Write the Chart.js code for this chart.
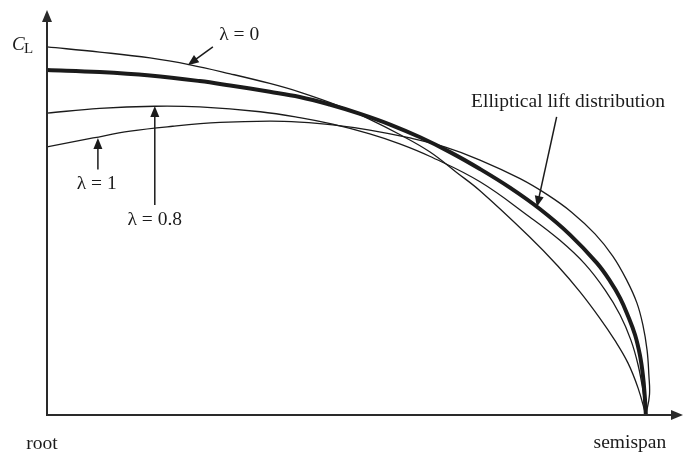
<!DOCTYPE html>
<html>
<head>
<meta charset="utf-8">
<script src="https://cdn.jsdelivr.net/npm/chart.js@4/dist/chart.umd.min.js"></script>
<style>
    html, body { margin: 0; padding: 0; background: #ffffff; }
    #wrap { width: 683px; height: 458px; }
</style>
</head>
<body>
<div id="wrap"><canvas id="myChart" width="683" height="458"></canvas></div>
<script>
// spanwise station (0 = root, 1 = semispan) and local lift coefficient
let ellipSpan = [0, 0.088, 0.172, 0.255, 0.306, 0.372, 0.422, 0.472, 0.523, 0.573, 0.623, 0.673, 0.723, 0.773, 0.823, 0.873, 0.918, 0.940, 0.957, 0.970, 0.982, 0.990, 0.995, 0.998, 1.0]
let ellipCl = [1.000, 0.994, 0.984, 0.968, 0.955, 0.937, 0.922, 0.900, 0.873, 0.842, 0.805, 0.762, 0.713, 0.659, 0.597, 0.523, 0.441, 0.389, 0.339, 0.288, 0.232, 0.174, 0.116, 0.058, 0]

let taper0Span = [0, 0.088, 0.172, 0.239, 0.306, 0.372, 0.422, 0.489, 0.539, 0.589, 0.639, 0.684, 0.723, 0.806, 0.853, 0.890, 0.923, 0.948, 0.970, 0.987, 1.0]
let taper0Cl = [1.067, 1.052, 1.035, 1.015, 0.989, 0.961, 0.936, 0.895, 0.857, 0.813, 0.763, 0.703, 0.650, 0.516, 0.432, 0.357, 0.281, 0.217, 0.151, 0.078, 0]

let taper08Span = [0, 0.088, 0.180, 0.255, 0.356, 0.422, 0.477, 0.539, 0.589, 0.639, 0.723, 0.806, 0.856, 0.898, 0.932, 0.957, 0.975, 0.987, 0.995, 1.0]
let taper08Cl = [0.875, 0.889, 0.895, 0.893, 0.879, 0.862, 0.843, 0.815, 0.786, 0.750, 0.676, 0.574, 0.507, 0.438, 0.362, 0.290, 0.217, 0.145, 0.072, 0]

let taper1Span = [0, 0.077, 0.139, 0.210, 0.289, 0.372, 0.422, 0.477, 0.539, 0.606, 0.664, 0.723, 0.790, 0.836, 0.876, 0.915, 0.945, 0.968, 0.985, 0.995, 1.002, 1.005, 1.006, 1.0]
let taper1Cl = [0.777, 0.803, 0.823, 0.837, 0.848, 0.852, 0.849, 0.841, 0.826, 0.803, 0.777, 0.739, 0.685, 0.638, 0.588, 0.525, 0.460, 0.391, 0.325, 0.261, 0.188, 0.116, 0.058, 0]

// callouts: text position and arrow tail/tip, in data units
let callouts = [
    { text: "λ = 0", at: [0.321, 1.101], from: [0.277, 1.067], to: [0.235, 1.014] },
    { text: "Elliptical lift distribution", at: [0.870, 0.907], from: [0.851, 0.864], to: [0.818, 0.603] },
    { text: "λ = 1", at: [0.083, 0.670], from: [0.085, 0.712], to: [0.085, 0.803] },
    { text: "λ = 0.8", at: [0.180, 0.565], from: [0.180, 0.609], to: [0.180, 0.896] },
]

const INK = "#1b1b1b"
const FONT = "19.5px 'Liberation Serif', 'DejaVu Serif', serif"


function toPoints(xs, ys){
    let pts = []
    for (let i=0; i<xs.length; i++){
        pts.push({x: xs[i], y: ys[i]})
    }
    return pts
}


function drawArrowHead(ctx, x0, y0, x1, y1, len, half){
    let ang = Math.atan2(y1 - y0, x1 - x0)
    ctx.beginPath()
    ctx.moveTo(x1, y1)
    ctx.lineTo(x1 - len * Math.cos(ang) + half * Math.sin(ang), y1 - len * Math.sin(ang) - half * Math.cos(ang))
    ctx.lineTo(x1 - len * Math.cos(ang) - half * Math.sin(ang), y1 - len * Math.sin(ang) + half * Math.cos(ang))
    ctx.closePath()
    ctx.fill()
}


// axes with arrows, axis captions and callouts
const sketchPlugin = {
    id: "sketch",
    afterDraw(chart){
        let ctx = chart.ctx
        let area = chart.chartArea
        let sx = chart.scales.x
        let sy = chart.scales.y
        ctx.save()
        ctx.strokeStyle = "#2a2a2a"
        ctx.fillStyle = "#2a2a2a"
        ctx.lineWidth = 2

        // axes
        ctx.beginPath()
        ctx.moveTo(area.left, area.top + 4)
        ctx.lineTo(area.left, area.bottom)
        ctx.lineTo(area.right - 4, area.bottom)
        ctx.stroke()
        drawArrowHead(ctx, area.left, area.bottom, area.left, area.top, 12, 5)
        drawArrowHead(ctx, area.left, area.bottom, area.right, area.bottom, 12, 5)

        // callouts
        ctx.fillStyle = INK
        ctx.strokeStyle = INK
        ctx.lineWidth = 1.5
        ctx.font = FONT
        ctx.textAlign = "center"
        ctx.textBaseline = "middle"
        callouts.forEach(c => {
            ctx.fillText(c.text, sx.getPixelForValue(c.at[0]), sy.getPixelForValue(c.at[1]))
            let x0 = sx.getPixelForValue(c.from[0])
            let y0 = sy.getPixelForValue(c.from[1])
            let x1 = sx.getPixelForValue(c.to[0])
            let y1 = sy.getPixelForValue(c.to[1])
            let ang = Math.atan2(y1 - y0, x1 - x0)
            ctx.beginPath()
            ctx.moveTo(x0, y0)
            ctx.lineTo(x1 - 6 * Math.cos(ang), y1 - 6 * Math.sin(ang))
            ctx.stroke()
            drawArrowHead(ctx, x0, y0, x1, y1, 11, 4.5)
        })

        // axis captions
        ctx.fillText("root", area.left - 5, area.bottom + 29)
        ctx.fillText("semispan", sx.getPixelForValue(1.0) - 16, area.bottom + 28)

        // C_L
        let cy = sy.getPixelForValue(1.067) - 2
        ctx.textAlign = "left"
        ctx.font = "italic 19px 'Liberation Serif', serif"
        ctx.fillText("C", area.left - 35, cy)
        ctx.font = "15px 'Liberation Serif', serif"
        ctx.fillText("L", area.left - 23, cy + 4)
        ctx.restore()
    }
}


function lineSet(label, xs, ys, width){
    return {
        label: label,
        data: toPoints(xs, ys),
        showLine: true,
        borderColor: INK,
        borderWidth: width,
        pointRadius: 0,
        tension: 0.4,
        borderCapStyle: "round",
        borderJoinStyle: "round",
    }
}


function newChart(){
    let canvas = document.querySelector("#myChart").getContext("2d")

    new Chart(canvas, {
        type: "scatter",
        data: {
            datasets: [
                lineSet("λ = 0", taper0Span, taper0Cl, 1.3),
                lineSet("λ = 0.8", taper08Span, taper08Cl, 1.3),
                lineSet("λ = 1", taper1Span, taper1Cl, 1.3),
                lineSet("Elliptical lift distribution", ellipSpan, ellipCl, 4),
            ]
        },
        options: {
            responsive: false,
            animation: false,
            layout: {
                padding: { left: 47, top: 10, right: 0, bottom: 43 }
            },
            scales: {
                x: { type: "linear", display: false, min: 0, max: 1.062 },
                y: { type: "linear", display: false, min: 0, max: 1.174 },
            },
            plugins: {
                legend: { display: false },
                tooltip: { enabled: false },
            },
        },
        plugins: [sketchPlugin]
    })
}


newChart()
</script>
</body>
</html>
